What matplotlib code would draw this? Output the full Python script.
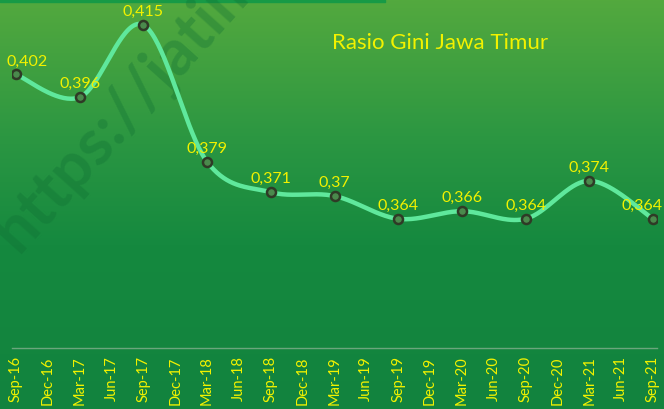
import numpy as np
import matplotlib
matplotlib.use("Agg")
import matplotlib.pyplot as plt
from matplotlib.colors import LinearSegmentedColormap

categories = ["Sep-16", "Dec-16", "Mar-17", "Jun-17", "Sep-17", "Dec-17", "Mar-18",
              "Jun-18", "Sep-18", "Dec-18", "Mar-19", "Jun-19", "Sep-19", "Dec-19",
              "Mar-20", "Jun-20", "Sep-20", "Dec-20", "Mar-21", "Jun-21", "Sep-21"]
periods = ["Sep-16", "Mar-17", "Sep-17", "Mar-18", "Sep-18", "Mar-19",
           "Sep-19", "Mar-20", "Sep-20", "Mar-21", "Sep-21"]
gini = [0.402, 0.396, 0.415, 0.379, 0.371, 0.370,
        0.364, 0.366, 0.364, 0.374, 0.364]
labels = ["0,402", "0,396", "0,415", "0,379", "0,371", "0,37",
          "0,364", "0,366", "0,364", "0,374", "0,364"]

YELLOW = "#f2f200"
LINE = "#5fe89c"


def smooth(xs, ys, n=40, tension=0.5):
    # cardinal spline through the points, close to excel's smoothed line
    px = np.concatenate([[xs[0]], xs, [xs[-1]]])
    py = np.concatenate([[ys[0]], ys, [ys[-1]]])
    out_x, out_y = [], []
    t = np.linspace(0, 1, n)
    for i in range(1, len(px) - 2):
        m0x = tension * (px[i + 1] - px[i - 1])
        m1x = tension * (px[i + 2] - px[i])
        m0y = tension * (py[i + 1] - py[i - 1])
        m1y = tension * (py[i + 2] - py[i])
        h00 = 2 * t**3 - 3 * t**2 + 1
        h10 = t**3 - 2 * t**2 + t
        h01 = -2 * t**3 + 3 * t**2
        h11 = t**3 - t**2
        out_x.append(h00 * px[i] + h10 * m0x + h01 * px[i + 1] + h11 * m1x)
        out_y.append(h00 * py[i] + h10 * m0y + h01 * py[i + 1] + h11 * m1y)
    return np.concatenate(out_x), np.concatenate(out_y)


fig = plt.figure(figsize=(6.64, 4.09), dpi=100)

# gradient background
bg = fig.add_axes([0, 0, 1, 1], zorder=0)
cmap = LinearSegmentedColormap.from_list(
    "bg", [(0.0, "#53a93e"), (0.35, "#2a9642"), (0.6, "#15893f"), (1.0, "#12833e")])
bg.imshow(np.linspace(0, 1, 256).reshape(-1, 1), aspect="auto", cmap=cmap,
          extent=[0, 1, 0, 1])
bg.fill_between([0, 0.58], 0.995, 1.0, color="#179a46")
# faint watermark, clipped at the left edge like the source image
bg.text(0.04, 0.36, "https://jatim.bps.go.id", rotation=48, fontsize=46,
        fontweight="bold", color="#0f6e33", alpha=0.33, family="Lato",
        transform=bg.transAxes, ha="left", va="bottom", rotation_mode="anchor")
bg.set_xlim(0, 1)
bg.set_ylim(0, 1)
bg.axis("off")

ax = fig.add_axes([12 / 664, 61 / 409, 645 / 664, 342 / 409], zorder=1)
ax.patch.set_alpha(0)

xi = np.array([categories.index(p) for p in periods], dtype=float)
yi = np.array(gini)
sx, sy = smooth(xi, yi)
ax.plot(sx, sy, color=LINE, lw=3.2, solid_capstyle="round", zorder=2)
ax.plot(xi, yi, "o", ms=6.5, mfc="#4a8a4c", mec="#2f3a26", mew=1.8, zorder=3)

for k, (x, y, lab) in enumerate(zip(xi, yi, labels)):
    dx = 11 if k == 0 else (-11 if k == len(xi) - 1 else 0)
    ax.annotate(lab, (x, y), xytext=(dx, 6), textcoords="offset pixels",
                ha="center", va="bottom", color=YELLOW, fontsize=11.5, family="Lato")

ax.set_xlim(-0.125, 20.125)
ax.set_ylim(0.33, 0.42)
ax.set_xticks(range(len(categories)))
ax.set_xticklabels(categories, rotation=90, color=YELLOW, fontsize=10.5, family="Lato")
ax.tick_params(axis="x", length=0, pad=6)
ax.set_yticks([])
for s in ["top", "right", "left"]:
    ax.spines[s].set_visible(False)
ax.spines["bottom"].set_color("#6aa67c")
ax.spines["bottom"].set_linewidth(1.0)

fig.text(440 / 664, 1 - 43 / 409, "Rasio Gini Jawa Timur", color=YELLOW,
         fontsize=16, family="Lato", ha="center", va="center")

fig.savefig("out.png", dpi=100)
